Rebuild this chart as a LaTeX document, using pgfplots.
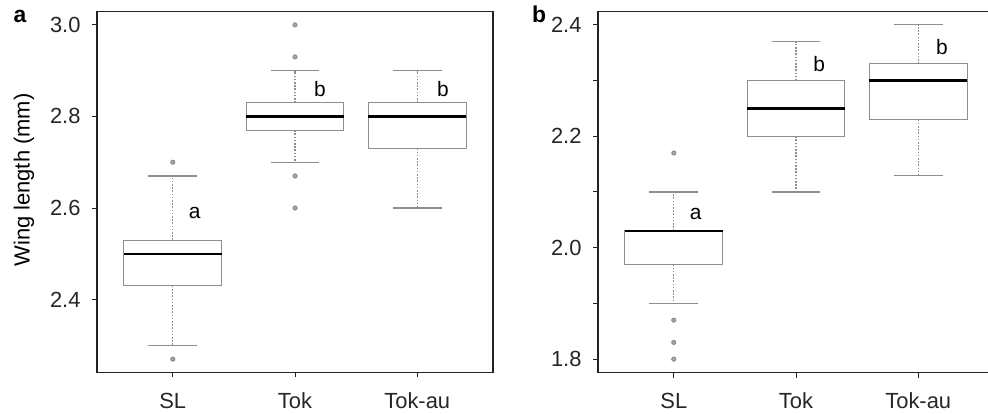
\documentclass[border=0pt]{standalone}
\usepackage{fontspec}
\setmainfont{Liberation Sans}
\usepackage{pgfplots}
\pgfplotsset{compat=1.18}
\usepgfplotslibrary{statistics}
\definecolor{boxgray}{HTML}{8E8E8E}
\definecolor{ptgray}{HTML}{AAAAAA}
\definecolor{frame}{HTML}{222222}
\pgfplotsset{
  boxplot/every median/.style={black, line width=2.3bp},
  boxplot/every box/.style={boxgray, line width=1.1bp},
  boxplot/draw/lower whisker/.code={
    \draw[boxgray, line width=1.1bp, dash pattern=on 1.6bp off 1.6bp]
      (boxplot box cs:\pgfplotsboxplotvalue{lower quartile},0.5) --
      (boxplot box cs:\pgfplotsboxplotvalue{lower whisker},0.5);
    \draw[boxgray, line width=1.1bp]
      (boxplot whisker cs:\pgfplotsboxplotvalue{lower whisker},0) --
      (boxplot whisker cs:\pgfplotsboxplotvalue{lower whisker},1);
  },
  boxplot/draw/upper whisker/.code={
    \draw[boxgray, line width=1.1bp, dash pattern=on 1.6bp off 1.6bp]
      (boxplot box cs:\pgfplotsboxplotvalue{upper quartile},0.5) --
      (boxplot box cs:\pgfplotsboxplotvalue{upper whisker},0.5);
    \draw[boxgray, line width=1.1bp]
      (boxplot whisker cs:\pgfplotsboxplotvalue{upper whisker},0) --
      (boxplot whisker cs:\pgfplotsboxplotvalue{upper whisker},1);
  },
  panel/.style={
    scale only axis, width=396bp, height=361bp,
    anchor=south west,
    xmin=0.38, xmax=3.62,
    xtick={1,2,3}, xticklabels={SL,Tok,Tok-au},
    tick pos=left, tick align=outside,
    major tick length=5bp, minor tick length=5bp,
    every tick/.style={frame, line width=1bp},
    minor tick style={frame, line width=1bp},
    axis line style={frame, line width=1.5bp},
    /pgf/number format/assume math mode=true,
    yticklabel style={/pgf/number format/fixed, /pgf/number format/fixed zerofill,
      /pgf/number format/precision=1, xshift=-8bp},
    xticklabel style={yshift=-12bp},
    ticklabel style={font=\fontsize{22}{26}\selectfont, text=black!85},
    clip=false,
    boxplot/draw direction=y,
  },
  bx/.style={boxgray, line width=1.1bp, mark=*, mark size=2bp,
    mark options={draw=none, fill=ptgray}},
}
\begin{document}
\begin{tikzpicture}
\useasboundingbox (0,0) rectangle (988bp,414bp);
\clip (0,0) rectangle (988bp,414bp);
% panel a
\begin{axis}[panel, at={(97bp,41.5bp)},
  ymin=2.2408, ymax=3.0292, ytick={2.4,2.6,2.8,3.0}]
\addplot[bx, boxplot prepared={draw direction=y, draw position=1, median=2.50, lower quartile=2.43,
  upper quartile=2.53, lower whisker=2.30, upper whisker=2.67,
  box extend=0.8, whisker extend=0.4}] coordinates {(0,2.70) (0,2.27)};
\addplot[bx, boxplot prepared={draw direction=y, draw position=2, median=2.80, lower quartile=2.77,
  upper quartile=2.83, lower whisker=2.70, upper whisker=2.90,
  box extend=0.8, whisker extend=0.4}] coordinates {(0,3.00) (0,2.93) (0,2.67) (0,2.60)};
\addplot[bx, boxplot prepared={draw direction=y, draw position=3, median=2.80, lower quartile=2.73,
  upper quartile=2.83, lower whisker=2.60, upper whisker=2.90,
  box extend=0.8, whisker extend=0.4}] coordinates {};
\node[font=\fontsize{21}{24}\selectfont] at (axis cs:1.18,2.59) {a};
\node[font=\fontsize{21}{24}\selectfont] at (axis cs:2.205,2.86) {b};
\node[font=\fontsize{21}{24}\selectfont] at (axis cs:3.21,2.86) {b};
\end{axis}
% panel b
\begin{axis}[panel, at={(598bp,41.5bp)},
  ymin=1.776, ymax=2.424, ytick={1.8,2.0,2.2,2.4}, minor ytick={1.9,2.1,2.3}]
\addplot[bx, boxplot prepared={draw direction=y, draw position=1, median=2.03, lower quartile=1.97,
  upper quartile=2.03, lower whisker=1.90, upper whisker=2.10,
  box extend=0.8, whisker extend=0.4}] coordinates {(0,2.17) (0,1.87) (0,1.83) (0,1.80)};
\addplot[bx, boxplot prepared={draw direction=y, draw position=2, median=2.25, lower quartile=2.20,
  upper quartile=2.30, lower whisker=2.10, upper whisker=2.37,
  box extend=0.8, whisker extend=0.4}] coordinates {};
\addplot[bx, boxplot prepared={draw direction=y, draw position=3, median=2.30, lower quartile=2.23,
  upper quartile=2.33, lower whisker=2.13, upper whisker=2.40,
  box extend=0.8, whisker extend=0.4}] coordinates {};
\node[font=\fontsize{21}{24}\selectfont] at (axis cs:1.18,2.06) {a};
\node[font=\fontsize{21}{24}\selectfont] at (axis cs:2.19,2.33) {b};
\node[font=\fontsize{21}{24}\selectfont] at (axis cs:3.195,2.36) {b};
\end{axis}
\node[rotate=90, font=\fontsize{22}{26}\selectfont] at (24bp,234bp) {Wing length (mm)};
\node[font=\bfseries\fontsize{23}{26}\selectfont] at (20bp,397.5bp) {a};
\node[font=\bfseries\fontsize{23}{26}\selectfont] at (539bp,399.5bp) {b};
\end{tikzpicture}
\end{document}
